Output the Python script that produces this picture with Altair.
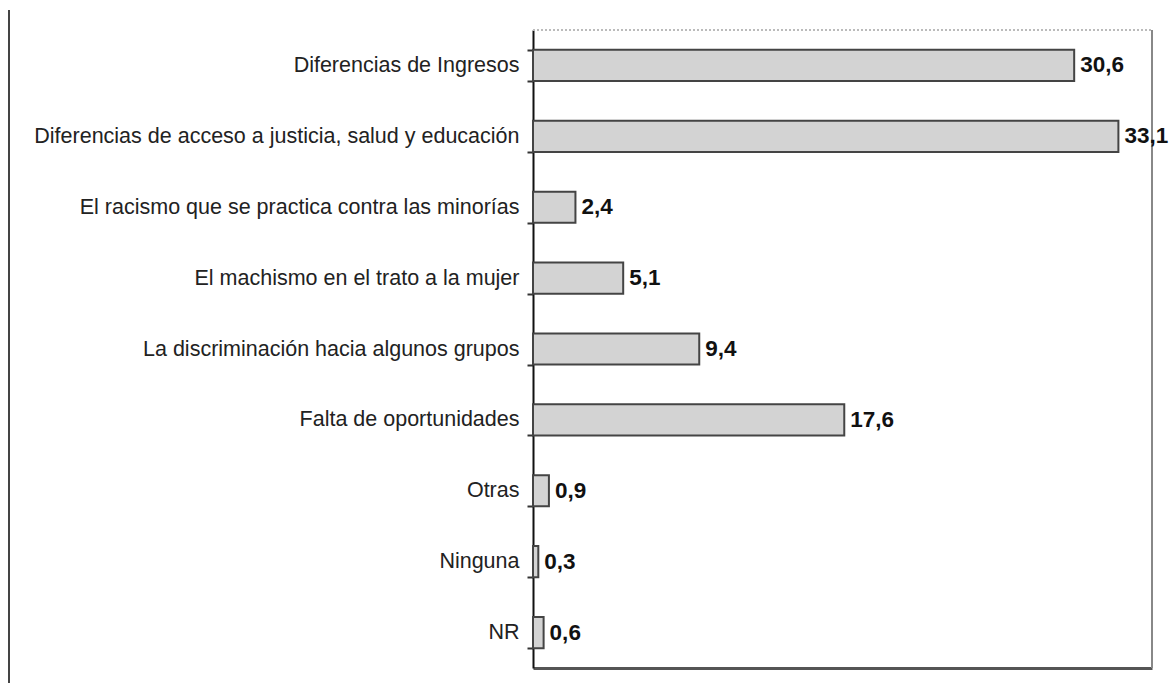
import altair as alt
import pandas as pd

categories = [
    "Diferencias de Ingresos",
    "Diferencias de acceso a justicia, salud y educación",
    "El racismo que se practica contra las minorías",
    "El machismo en el trato a la mujer",
    "La discriminación hacia algunos grupos",
    "Falta de oportunidades",
    "Otras",
    "Ninguna",
    "NR",
]
values = [30.6, 33.1, 2.4, 5.1, 9.4, 17.6, 0.9, 0.3, 0.6]

df = pd.DataFrame({"cat": categories, "val": values})
df["label"] = [f"{v:.1f}".replace(".", ",") for v in values]

W, H = 619, 638
FONT = "Liberation Sans"

y_enc = alt.Y(
    "cat:N",
    sort=categories,
    title=None,
    scale=alt.Scale(paddingInner=0.56, paddingOuter=0.28),
    axis=alt.Axis(
        tickBand="extent",
        tickSize=6,
        tickColor="#333",
        tickWidth=2,
        domainColor="#111",
        domainWidth=2,
        labelFont=FONT,
        labelFontSize=21.5,
        labelColor="#222",
        labelPadding=8,
        labelLimit=700,
        grid=False,
    ),
)
x_enc = alt.X(
    "val:Q",
    title=None,
    scale=alt.Scale(domain=[0, 35], nice=False),
    axis=alt.Axis(
        labels=False,
        ticks=False,
        grid=False,
        domainColor="#555",
        domainWidth=3,
    ),
)

bars = alt.Chart(df).mark_bar(
    fill="#d3d3d3", stroke="#444", strokeWidth=2
).encode(x=x_enc, y=y_enc)

text = alt.Chart(df).mark_text(
    align="left", baseline="middle", dx=6, font=FONT, fontSize=22.5,
    fontWeight="bold", color="#111"
).encode(x="val:Q", y=alt.Y("cat:N", sort=categories), text="label:N")

top_border = alt.Chart(df).mark_rule(
    color="#bbb", strokeDash=[2, 2], strokeWidth=2
).encode(x=alt.value(0), x2=alt.value(W), y=alt.value(0))

right_border = alt.Chart(df).mark_rule(
    color="#888", strokeWidth=1.5
).encode(x=alt.value(W), y=alt.value(0), y2=alt.value(H))

left_line = alt.Chart(df).mark_rule(
    color="#444", strokeWidth=2
).encode(x=alt.value(-524), y=alt.value(-20), y2=alt.value(H + 20))

chart = alt.layer(top_border, right_border, left_line, bars, text).properties(
    width=W,
    height=H,
    autosize=alt.AutoSizeParams(type="none"),
    padding={"left": 533, "top": 30, "right": 17, "bottom": 15},
).configure_view(stroke=None)

chart.save("out.html", embed_options={"renderer": "svg", "actions": False})
